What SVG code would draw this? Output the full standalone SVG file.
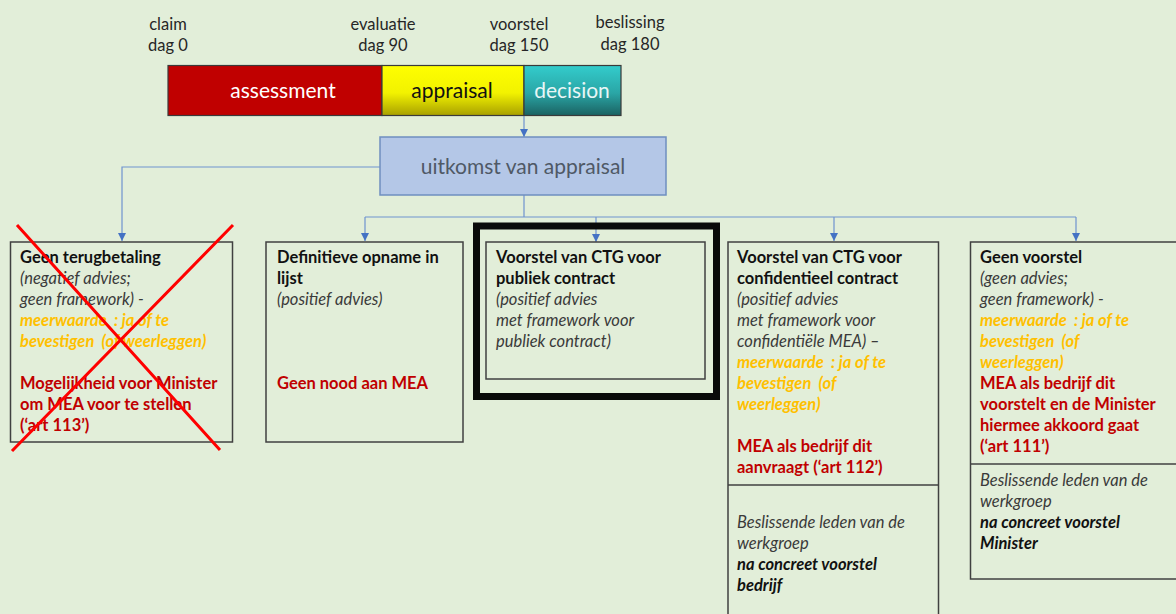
<svg xmlns="http://www.w3.org/2000/svg" width="1176" height="614" viewBox="0 0 1176 614">
  <defs>
    <linearGradient id="gYellow" x1="0" y1="0" x2="0" y2="1">
      <stop offset="0" stop-color="#ffff00"/>
      <stop offset="0.55" stop-color="#f2f200"/>
      <stop offset="1" stop-color="#a8a000"/>
    </linearGradient>
    <linearGradient id="gTeal" x1="0" y1="0" x2="0" y2="1">
      <stop offset="0" stop-color="#33cccc"/>
      <stop offset="0.55" stop-color="#2aa6a6"/>
      <stop offset="1" stop-color="#1b6262"/>
    </linearGradient>
    <marker id="arr" viewBox="0 0 10 10" refX="10" refY="5" markerWidth="8" markerHeight="8" markerUnits="userSpaceOnUse" orient="auto">
      <path d="M0,0 L10,5 L0,10 Z" fill="#4472c4"/>
    </marker>
    <style>
      text { font-family: Lato, "Open Sans", "Liberation Sans", sans-serif; }
      .lbl { font-size: 16.5px; fill: #262626; text-anchor: middle; }
      .bar { font-size: 21px; text-anchor: middle; }
      .box { fill: none; stroke: #404040; stroke-width: 1.5; }
      .t { font-size: 16.5px; }
      .b { font-weight: bold; fill: #111111; }
      .i { font-style: italic; fill: #3a3a3a; }
      .o { font-style: italic; font-weight: bold; fill: #ffc000; }
      .r { font-weight: bold; fill: #c00000; }
      .bi { font-style: italic; font-weight: bold; fill: #111111; }
      .con { fill: none; stroke: #6f93cf; stroke-width: 1.2; }
    </style>
  </defs>

  <rect x="0" y="0" width="1176" height="614" fill="#e2eed9"/>

  <!-- timeline milestones -->
  <g id="milestones">
    <text class="lbl" x="168" y="30">claim</text>
    <text class="lbl" x="168" y="51">dag 0</text>
    <text class="lbl" x="383" y="30">evaluatie</text>
    <text class="lbl" x="383" y="51">dag 90</text>
    <text class="lbl" x="519" y="30">voorstel</text>
    <text class="lbl" x="519" y="51">dag 150</text>
    <text class="lbl" x="630" y="28">beslissing</text>
    <text class="lbl" x="630" y="50">dag 180</text>
  </g>

  <!-- phase bar -->
  <g id="phases">
    <rect x="168" y="65.5" width="214" height="50" fill="#c00000" stroke="#3a3a3a" stroke-width="1.2"/>
    <rect x="382" y="65.5" width="142" height="50" fill="url(#gYellow)" stroke="#3a3a3a" stroke-width="1.2"/>
    <rect x="524" y="65.5" width="97" height="50" fill="url(#gTeal)" stroke="#3a3a3a" stroke-width="1.2"/>
    <text class="bar" x="283" y="98" fill="#ffffff">assessment</text>
    <text class="bar" x="452" y="98" fill="#111111">appraisal</text>
    <text class="bar" x="572" y="98" fill="#e8f6f6">decision</text>
  </g>

  <!-- connectors -->
  <g id="connectors">
    <path class="con" d="M524,116 V137" marker-end="url(#arr)"/>
    <path class="con" d="M380,167 H122 V241" marker-end="url(#arr)"/>
    <path class="con" d="M524,195 V217"/>
    <path class="con" d="M365,217 H1076"/>
    <path class="con" d="M365,217 V241" marker-end="url(#arr)"/>
    <path class="con" d="M596,217 V242" marker-end="url(#arr)"/>
    <path class="con" d="M834,217 V241" marker-end="url(#arr)"/>
    <path class="con" d="M1076,217 V241" marker-end="url(#arr)"/>
  </g>

  <!-- outcome node -->
  <g id="outcome">
    <rect x="380" y="137" width="286" height="58" fill="#b4c7e7" stroke="#6f8fc0" stroke-width="1.5"/>
    <text x="523" y="174" font-size="21" text-anchor="middle" fill="#4f5966">uitkomst van appraisal</text>
  </g>

  <!-- no reimbursement -->
  <g id="geen-terugbetaling">
    <rect class="box" x="10.5" y="242" width="222" height="200"/>
    <text class="t">
      <tspan class="b" x="20" y="263">Geen terugbetaling</tspan>
      <tspan class="i" x="20" y="284">(negatief advies;</tspan>
      <tspan class="i" x="20" y="305">geen framework) -</tspan>
      <tspan class="o" x="20" y="326">meerwaarde&#160; : ja of te</tspan>
      <tspan class="o" x="20" y="347">bevestigen&#160; (of weerleggen)</tspan>
      <tspan class="r" x="20" y="389">Mogelijkheid voor Minister</tspan>
      <tspan class="r" x="20" y="410">om MEA voor te stellen</tspan>
      <tspan class="r" x="20" y="431">(‘art 113’)</tspan>
    </text>
    <path d="M17,225 L220,450 M233,225 L12,451" stroke="#ff0000" stroke-width="3" fill="none"/>
  </g>

  <!-- definitive listing -->
  <g id="definitieve-opname">
    <rect class="box" x="266" y="242" width="197" height="200"/>
    <text class="t">
      <tspan class="b" x="277" y="263">Definitieve opname in</tspan>
      <tspan class="b" x="277" y="284">lijst</tspan>
      <tspan class="i" x="277" y="305">(positief advies)</tspan>
      <tspan class="r" x="277" y="389">Geen nood aan MEA</tspan>
    </text>
  </g>

  <!-- public contract -->
  <g id="publiek-contract">
    <rect x="476.5" y="226" width="240" height="170.5" fill="none" stroke="#0a0a0a" stroke-width="7"/>
    <rect class="box" x="486" y="242" width="219" height="137"/>
    <text class="t">
      <tspan class="b" x="496" y="263">Voorstel van CTG voor</tspan>
      <tspan class="b" x="496" y="284">publiek contract</tspan>
      <tspan class="i" x="496" y="305">(positief advies</tspan>
      <tspan class="i" x="496" y="326">met framework voor</tspan>
      <tspan class="i" x="496" y="347">publiek contract)</tspan>
    </text>
  </g>

  <!-- confidential contract -->
  <g id="confidentieel-contract">
    <rect class="box" x="728" y="242" width="210.5" height="380"/>
    <line x1="728" y1="485" x2="938.5" y2="485" stroke="#404040" stroke-width="1.5"/>
    <text class="t">
      <tspan class="b" x="737" y="263">Voorstel van CTG voor</tspan>
      <tspan class="b" x="737" y="284">confidentieel contract</tspan>
      <tspan class="i" x="737" y="305">(positief advies</tspan>
      <tspan class="i" x="737" y="326">met framework voor</tspan>
      <tspan class="i" x="737" y="347">confidentiële MEA) –</tspan>
      <tspan class="o" x="737" y="368">meerwaarde&#160; : ja of te</tspan>
      <tspan class="o" x="737" y="389">bevestigen&#160; (of</tspan>
      <tspan class="o" x="737" y="410">weerleggen)</tspan>
      <tspan class="r" x="737" y="452">MEA als bedrijf dit</tspan>
      <tspan class="r" x="737" y="473">aanvraagt (‘art 112’)</tspan>
      <tspan class="i" x="737" y="528">Beslissende leden van de</tspan>
      <tspan class="i" x="737" y="549">werkgroep</tspan>
      <tspan class="bi" x="737" y="570">na concreet voorstel</tspan>
      <tspan class="bi" x="737" y="591">bedrijf</tspan>
    </text>
  </g>

  <!-- no proposal -->
  <g id="geen-voorstel">
    <rect class="box" x="970.5" y="242" width="220" height="337"/>
    <line x1="970.5" y1="464" x2="1190" y2="464" stroke="#404040" stroke-width="1.5"/>
    <text class="t">
      <tspan class="b" x="980" y="263">Geen voorstel</tspan>
      <tspan class="i" x="980" y="284">(geen advies;</tspan>
      <tspan class="i" x="980" y="305">geen framework) -</tspan>
      <tspan class="o" x="980" y="326">meerwaarde&#160; : ja of te</tspan>
      <tspan class="o" x="980" y="347">bevestigen&#160; (of</tspan>
      <tspan class="o" x="980" y="368">weerleggen)</tspan>
      <tspan class="r" x="980" y="389">MEA als bedrijf dit</tspan>
      <tspan class="r" x="980" y="410">voorstelt en de Minister</tspan>
      <tspan class="r" x="980" y="431">hiermee akkoord gaat</tspan>
      <tspan class="r" x="980" y="452">(‘art 111’)</tspan>
      <tspan class="i" x="980" y="486">Beslissende leden van de</tspan>
      <tspan class="i" x="980" y="507">werkgroep</tspan>
      <tspan class="bi" x="980" y="528">na concreet voorstel</tspan>
      <tspan class="bi" x="980" y="549">Minister</tspan>
    </text>
  </g>
</svg>
